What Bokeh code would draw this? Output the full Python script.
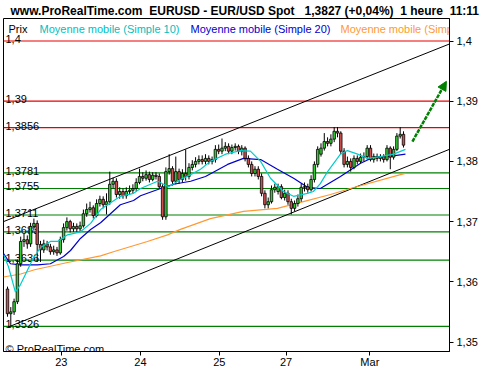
from bokeh.plotting import figure
from bokeh.models import (ColumnDataSource, LinearAxis, FixedTicker, Range1d,
                          Arrow, NormalHead)
from bokeh.embed import file_html
from bokeh.resources import INLINE
from bokeh.core.properties import value

# ---------------- data (EUR/USD, 1 hour candles) ----------------
opens = [1.3588,1.3547,1.3550,1.3567,1.3630,1.3667,1.3670,1.3663,1.3692,1.3697,
         1.3662,1.3653,1.3663,1.3658,1.3650,1.3653,1.3648,1.3670,1.3690,1.3700,
         1.3688,1.3692,1.3688,1.3693,1.3713,1.3720,1.3723,1.3710,1.3730,1.3737,
         1.3728,1.3733,1.3762,1.3767,1.3745,1.3750,1.3743,1.3750,1.3752,1.3755,
         1.3765,1.3775,1.3772,1.3778,1.3770,1.3777,1.3775,1.3758,1.3708,1.3783,
         1.3788,1.3767,1.3783,1.3770,1.3780,1.3775,1.3790,1.3795,1.3800,1.3803,
         1.3800,1.3805,1.3800,1.3803,1.3820,1.3817,1.3822,1.3825,1.3817,1.3823,
         1.3825,1.3817,1.3822,1.3805,1.3795,1.3780,1.3787,1.3775,1.3747,1.3728,
         1.3733,1.3753,1.3750,1.3758,1.3740,1.3747,1.3733,1.3722,1.3730,1.3738,
         1.3757,1.3758,1.3753,1.3770,1.3795,1.3812,1.3822,1.3833,1.3830,1.3837,
         1.3850,1.3847,1.3817,1.3795,1.3800,1.3790,1.3805,1.3800,1.3807,1.3808,
         1.3822,1.3803,1.3808,1.3805,1.3808,1.3803,1.3822,1.3807,1.3820,1.3842,
         1.3845]
closes = [1.3547,1.3550,1.3567,1.3630,1.3667,1.3670,1.3663,1.3692,1.3697,1.3662,
          1.3653,1.3663,1.3658,1.3650,1.3653,1.3648,1.3670,1.3690,1.3700,1.3688,
          1.3692,1.3688,1.3693,1.3713,1.3720,1.3723,1.3710,1.3730,1.3737,1.3728,
          1.3733,1.3762,1.3767,1.3745,1.3750,1.3743,1.3750,1.3752,1.3755,1.3765,
          1.3775,1.3772,1.3778,1.3770,1.3777,1.3775,1.3758,1.3708,1.3783,1.3788,
          1.3767,1.3783,1.3770,1.3780,1.3775,1.3790,1.3795,1.3800,1.3803,1.3800,
          1.3805,1.3800,1.3803,1.3820,1.3817,1.3822,1.3825,1.3817,1.3823,1.3825,
          1.3817,1.3822,1.3805,1.3795,1.3780,1.3787,1.3775,1.3747,1.3728,1.3733,
          1.3753,1.3757,1.3758,1.3740,1.3747,1.3733,1.3722,1.3730,1.3738,1.3757,
          1.3758,1.3753,1.3770,1.3795,1.3820,1.3822,1.3833,1.3830,1.3837,1.3850,
          1.3847,1.3817,1.3795,1.3800,1.3790,1.3805,1.3800,1.3807,1.3808,1.3822,
          1.3803,1.3808,1.3805,1.3808,1.3803,1.3822,1.3807,1.3820,1.3842,1.3845,
          1.3827]
highs = [1.3592,1.3558,1.3572,1.3637,1.3675,1.3680,1.3677,1.3698,1.3705,1.3702,
         1.3668,1.3670,1.3668,1.3663,1.3660,1.3658,1.3675,1.3697,1.3707,1.3703,
         1.3698,1.3697,1.3700,1.3720,1.3730,1.3733,1.3727,1.3737,1.3743,1.3742,
         1.3747,1.3783,1.3773,1.3772,1.3757,1.3755,1.3757,1.3760,1.3762,1.3772,
         1.3788,1.3782,1.3785,1.3783,1.3782,1.3782,1.3780,1.3762,1.3790,1.3812,
         1.3792,1.3808,1.3788,1.3787,1.3820,1.3797,1.3802,1.3807,1.3810,1.3810,
         1.3812,1.3810,1.3808,1.3827,1.3828,1.3838,1.3832,1.3830,1.3828,1.3830,
         1.3828,1.3827,1.3825,1.3810,1.3800,1.3792,1.3792,1.3780,1.3752,1.3740,
         1.3760,1.3763,1.3763,1.3762,1.3753,1.3752,1.3738,1.3735,1.3745,1.3763,
         1.3765,1.3763,1.3777,1.3800,1.3825,1.3830,1.3847,1.3840,1.3845,1.3857,
         1.3857,1.3850,1.3822,1.3808,1.3805,1.3810,1.3810,1.3813,1.3815,1.3827,
         1.3827,1.3813,1.3813,1.3812,1.3812,1.3827,1.3825,1.3825,1.3847,1.3857,
         1.3850]
lows = [1.3542,1.3526,1.3545,1.3563,1.3625,1.3658,1.3655,1.3658,1.3685,1.3633,
        1.3633,1.3648,1.3652,1.3645,1.3645,1.3643,1.3645,1.3665,1.3685,1.3682,
        1.3683,1.3683,1.3683,1.3690,1.3708,1.3715,1.3705,1.3707,1.3725,1.3722,
        1.3712,1.3728,1.3755,1.3740,1.3738,1.3738,1.3738,1.3745,1.3747,1.3750,
        1.3762,1.3767,1.3768,1.3765,1.3767,1.3770,1.3755,1.3703,1.3703,1.3778,
        1.3760,1.3762,1.3763,1.3765,1.3768,1.3770,1.3785,1.3790,1.3795,1.3795,
        1.3795,1.3795,1.3795,1.3798,1.3812,1.3812,1.3817,1.3812,1.3812,1.3818,
        1.3812,1.3810,1.3800,1.3790,1.3775,1.3775,1.3770,1.3742,1.3722,1.3722,
        1.3730,1.3748,1.3745,1.3737,1.3735,1.3728,1.3712,1.3717,1.3725,1.3733,
        1.3750,1.3748,1.3750,1.3765,1.3790,1.3808,1.3818,1.3825,1.3825,1.3832,
        1.3840,1.3812,1.3790,1.3790,1.3783,1.3787,1.3795,1.3797,1.3800,1.3803,
        1.3800,1.3798,1.3800,1.3800,1.3798,1.3800,1.3787,1.3803,1.3817,1.3838,
        1.3823]

# moving averages (candle index, price)
sma10_x = [-1.2,0.3,2.4,3.9,5.5,7.6,10,13,15.2,18.2,22.1,25.2,28.2,34.2,38.2,40.3,45.5,47.3,
           48.8,52.4,55.5,58.5,61.5,66.1,70.6,73.6,76.7,79.7,83.6,86.7,90.9,92.7,94.8,97,
           100.9,103,106.1,109.1,113,117,120.6]
sma10_y = [1.3645,1.3625,1.3583,1.3595,1.3613,1.3637,1.3657,1.3667,1.3667,1.3678,1.3683,
           1.3697,1.3720,1.3742,1.3747,1.3755,1.3767,1.3762,1.3758,1.3770,1.3778,1.3787,
           1.3800,1.3812,1.3818,1.3817,1.3800,1.3772,1.3750,1.3742,1.3747,1.3750,1.3763,
           1.3783,1.3812,1.3818,1.3812,1.3805,1.3808,1.3812,1.3820]
sma20_x = [-1.2,0.9,3.9,9.1,13,17,19.1,22.1,25.2,28.2,34.2,38.2,40.3,46.4,50.3,55.5,60,
           66.7,71.5,76.7,81.8,86.7,90.9,94.8,100.9,107,110.9,115.2,120.6]
sma20_y = [1.3647,1.3630,1.3628,1.3628,1.3630,1.3642,1.3652,1.3672,1.3687,1.3698,1.3728,
           1.3735,1.3743,1.3755,1.3762,1.3767,1.3775,1.3795,1.3805,1.3803,1.3787,1.3772,
           1.3757,1.3755,1.3775,1.3797,1.3807,1.3808,1.3812]
sma_long_x = [-1.2,4,8.2,18.2,28.2,32.1,42.4,48.5,52.4,61.5,71.5,81.8,88.8,97.9,103.9,119.1,120.6]
sma_long_y = [1.3608,1.3613,1.3620,1.3632,1.3643,1.3650,1.3667,1.3678,1.3687,1.3705,1.3717,
              1.3722,1.3732,1.3745,1.3755,1.3778,1.3780]

# horizontal support / resistance levels
red_levels = [1.4, 1.39, 1.3856]
red_labels = ["1,4", "1,39", "1,3856"]
green_levels = [1.3781, 1.3755, 1.3711, 1.3683, 1.3636, 1.3526]
green_labels = ["1,3781", "1,3755", "1,3711", "1,3683", "1,3636", "1,3526"]

# trend channel (candle index, price)
upper_x = [-1.2, 133.9]
upper_y = [1.3700, 1.3995]
lower_x = [0.3, 133.9]
lower_y = [1.3525, 1.3820]
arrow_x = [122.7, 133.0]
arrow_y = [1.3833, 1.3933]

# axes
price_ticks = [1.35, 1.36, 1.37, 1.38, 1.39, 1.4]
price_tick_labels = ["1,35", "1,36", "1,37", "1,38", "1,39", "1,4"]
date_ticks = [16.3, 40.3, 64.2, 84.4, 109.8]
date_labels = ["23", "24", "25", "27", "Mar"]

NB = "\u00a0"
title_parts = ["www.ProRealTime.com", "EURUSD - EUR/USD Spot", "1,3827 (+0,04%)", "1 heure", "11:11"]
title_gaps = [2, 3, 2, 2]

# ---------------- layout helpers (pixel -> data) ----------------
X_START = -1.21
PX_PER_CANDLE = 3.3
X_END = X_START + 446 / PX_PER_CANDLE
def dx(px):
    return X_START + (px - 3) / PX_PER_CANDLE
def dy(py):
    return 1.4 - (py - 40.5) / 6020

FONT = "Liberation Sans"

p = figure(width=500, height=370, output_backend="svg", toolbar_location=None,
           x_range=Range1d(X_START, X_END), y_range=Range1d(dy(351), dy(18)),
           x_axis_location=None, y_axis_location=None,
           min_border_left=3, min_border_right=51, min_border_top=18, min_border_bottom=19)
p.outline_line_color = "black"
p.outline_line_width = 1
p.background_fill_color = "white"
p.border_fill_color = "white"
p.grid.visible = False

title = title_parts[0]
for gap, part in zip(title_gaps, title_parts[1:]):
    title += NB * gap + part
p.title.text = title
p.title.text_font = FONT
p.title.text_font_size = "12px"
p.title.text_font_style = "bold"
p.title.text_color = "black"
p.title.align = "left"
p.title.offset = 7
p.title.standoff = 1

# axes
yax = LinearAxis(ticker=FixedTicker(ticks=price_ticks),
                 major_label_overrides=dict(zip(price_ticks, price_tick_labels)))
yax.major_tick_out = 4
yax.major_tick_in = 0
yax.minor_tick_out = 0
yax.minor_tick_in = 0
yax.major_label_standoff = 3
yax.axis_label_standoff = 0
yax.major_label_text_font = FONT
yax.major_label_text_font_size = "11px"
yax.major_label_text_color = "black"
yax.axis_line_color = "black"
p.add_layout(yax, "right")

xax = LinearAxis(ticker=FixedTicker(ticks=date_ticks),
                 major_label_overrides=dict(zip(date_ticks, date_labels)))
xax.major_tick_out = 4
xax.major_tick_in = 0
xax.minor_tick_out = 0
xax.minor_tick_in = 0
xax.major_label_standoff = 0
xax.axis_label_standoff = 0
xax.major_label_text_font = FONT
xax.major_label_text_font_size = "11px"
xax.major_label_text_color = "black"
xax.axis_line_color = "black"
p.add_layout(xax, "below")

# level lines + labels
for lv in red_levels:
    p.line([X_START, X_END], [lv, lv], line_color="#e80000", line_width=1.2)
for lv in green_levels:
    p.line([X_START, X_END], [lv, lv], line_color="#008000", line_width=1.2)
p.text(x=[dx(5)] * (len(red_levels) + len(green_levels)),
       y=red_levels + green_levels, text=red_labels + green_labels,
       text_font=value(FONT), text_font_size="11px", text_color="black",
       text_baseline="alphabetic", text_align="left", y_offset=-2)

# channel lines
p.line(upper_x, upper_y, line_color="black", line_width=1)
p.line(lower_x, lower_y, line_color="black", line_width=1)

# moving averages
p.line(sma_long_x, sma_long_y, line_color="#ff9933", line_width=1.2)
p.line(sma20_x, sma20_y, line_color="#0000cc", line_width=1.2)

# candles
idx = list(range(len(closes)))
colors = ["#33cc33" if c >= o else "#d05050" for o, c in zip(opens, closes)]
src = ColumnDataSource(dict(i=idx, o=opens, c=closes, h=highs, l=lows, col=colors,
                            top=[max(o, c) for o, c in zip(opens, closes)],
                            bot=[min(o, c) for o, c in zip(opens, closes)]))
p.segment(x0="i", y0="l", x1="i", y1="h", source=src, line_color="black", line_width=1)
p.vbar(x="i", width=0.75, top="top", bottom="bot", source=src,
       fill_color="col", line_color="black", line_width=0.8)

p.line(sma10_x, sma10_y, line_color="#00cccc", line_width=1.2)

# arrow
p.add_layout(Arrow(end=NormalHead(size=9, fill_color="#008000", line_color="#008000"),
                   x_start=arrow_x[0], y_start=arrow_y[0], x_end=arrow_x[1], y_end=arrow_y[1],
                   line_color="#008000", line_width=2.5, line_dash="4 1"))

# legend row inside frame
leg_y = dy(28.5)
p.text(x=[dx(8), dx(39), dx(190), dx(340)], y=[leg_y] * 4,
       text=["Prix", "Moyenne mobile (Simple 10)", "Moyenne mobile (Simple 20)",
             "Moyenne mobile (Simple 100)"],
       text_color=["black", "#00c0c0", "#0000cc", "#ff9933"],
       text_font=value(FONT), text_font_size="11px", text_baseline="alphabetic")

# copyright
p.text(x=[dx(5)], y=[dy(348)], text=["\u00a9 ProRealTime.com"], text_font=value(FONT),
       text_font_size="11px", text_color="black", text_baseline="alphabetic")

open("out.html", "w").write(file_html(p, INLINE))
